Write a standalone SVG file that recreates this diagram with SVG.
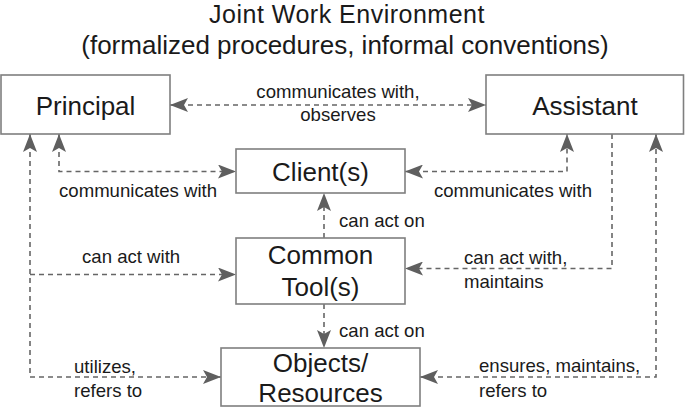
<svg xmlns="http://www.w3.org/2000/svg" width="685" height="408" viewBox="0 0 685 408">
<style>
  .box { fill: #ffffff; stroke: #7f7f7f; stroke-width: 1.6; }
  .title { font-family: "Liberation Sans", Arial, sans-serif; font-size: 26px; fill: #1a1a1a; text-anchor: middle; }
  .node { font-family: "Liberation Sans", Arial, sans-serif; font-size: 26px; fill: #1a1a1a; text-anchor: middle; }
  .lbl { font-family: "Liberation Sans", Arial, sans-serif; font-size: 18.6px; fill: #1a1a1a; }
  .edge { fill: none; stroke: #666666; stroke-width: 1.6; stroke-dasharray: 5 4; }
</style>
<defs>
  <marker id="arr" viewBox="0 0 18 14" refX="18" refY="7" markerWidth="18" markerHeight="14" markerUnits="userSpaceOnUse" orient="auto-start-reverse">
    <path d="M0,0 L18,7 L0,14 L4,7 Z" fill="#5f5f5f"/>
  </marker>
</defs>

<g id="title">
  <text class="title" x="347" y="23" style="font-size:25px;letter-spacing:0.5px">Joint Work Environment</text>
  <text class="title" x="345" y="54">(formalized procedures, informal conventions)</text>
</g>

<g id="connectors">
  <path class="edge" d="M170,105 H486" marker-start="url(#arr)" marker-end="url(#arr)"/>
  <path class="edge" d="M59,134 V171.5 H236" marker-start="url(#arr)" marker-end="url(#arr)"/>
  <path class="edge" d="M405,171.5 H567 V134" marker-start="url(#arr)" marker-end="url(#arr)"/>
  <path class="edge" d="M612,134 V268.5 H405" marker-end="url(#arr)"/>
  <path class="edge" d="M420,377 H656 V134" marker-start="url(#arr)" marker-end="url(#arr)"/>
  <path class="edge" d="M30,134 V377 H221" marker-start="url(#arr)" marker-end="url(#arr)"/>
  <path class="edge" d="M30,274.5 H236" marker-end="url(#arr)"/>
  <path class="edge" d="M324,238 V193" marker-end="url(#arr)"/>
  <path class="edge" d="M324,304 V348" marker-end="url(#arr)"/>

  <text class="lbl" x="338" y="98" text-anchor="middle">communicates with,</text>
  <text class="lbl" x="338" y="121" text-anchor="middle">observes</text>
  <text class="lbl" x="59" y="197">communicates with</text>
  <text class="lbl" x="592" y="197" text-anchor="end">communicates with</text>
  <text class="lbl" x="339" y="227">can act on</text>
  <text class="lbl" x="82" y="263">can act with</text>
  <text class="lbl" x="464" y="264">can act with,</text>
  <text class="lbl" x="464" y="288">maintains</text>
  <text class="lbl" x="339" y="337">can act on</text>
  <text class="lbl" x="74" y="373">utilizes,</text>
  <text class="lbl" x="74" y="397">refers to</text>
  <text class="lbl" x="479" y="372">ensures, maintains,</text>
  <text class="lbl" x="479" y="397">refers to</text>
</g>

<g id="principal">
  <rect class="box" x="1" y="75" width="169" height="59"/>
  <text class="node" x="85.5" y="115">Principal</text>
</g>
<g id="assistant">
  <rect class="box" x="486" y="75" width="197.5" height="59"/>
  <text class="node" x="585" y="115">Assistant</text>
</g>
<g id="clients">
  <rect class="box" x="236" y="149" width="169" height="44"/>
  <text class="node" x="320.5" y="181">Client(s)</text>
</g>
<g id="tools">
  <rect class="box" x="236" y="238" width="169" height="66"/>
  <text class="node" x="320.5" y="264">Common</text>
  <text class="node" x="320.5" y="296">Tool(s)</text>
</g>
<g id="objects">
  <rect class="box" x="221" y="348" width="199" height="58"/>
  <text class="node" x="320.5" y="372">Objects/</text>
  <text class="node" x="320.5" y="402">Resources</text>
</g>
</svg>
